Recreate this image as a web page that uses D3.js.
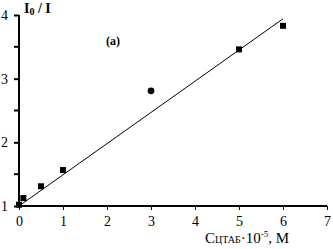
<!DOCTYPE html>
<html>
<head>
<meta charset="utf-8">
<script src="https://d3js.org/d3.v7.min.js"></script>
<style>
  body { margin: 0; background: #fff; }
  svg text { font-family: "Liberation Serif", "DejaVu Serif", serif; fill: #000; }
</style>
</head>
<body>
<svg id="chart" width="333" height="249"></svg>
<script>
// measured points: concentration (x 1e-5 M) and I0/I
const conc = [0, 0.1, 0.5, 1, 3, 5, 6];
const ratio = [1.02, 1.125, 1.31, 1.565, 2.81, 3.46, 3.83];
const shape = ["square", "square", "square", "square", "circle", "square", "square"];
// fitted line I0/I = 1 + k*C
const fitX = [0, 6];
const fitK = 0.49;
const xTicks = [0, 1, 2, 3, 4, 5, 6, 7];
const yTicks = [1, 2, 3, 4];
const yMinor = [1.5, 2.5, 3.5];

const svg = d3.select("#chart");
const x = d3.scaleLinear().domain([0, 7]).range([19, 327]);
const y = d3.scaleLinear().domain([1, 4]).range([206, 15]);

// axes
svg.append("g")
  .attr("transform", "translate(0,206)")
  .call(d3.axisBottom(x).tickValues(xTicks).tickSize(4).tickPadding(6).tickFormat(d3.format("d")))
  .attr("font-family", "Liberation Serif")
  .call(g => g.select(".domain").attr("stroke-width", 2).attr("d", "M19,0H327"))
  .call(g => g.selectAll("text").attr("font-size", 14));

svg.append("g")
  .attr("transform", "translate(19,0)")
  .call(d3.axisLeft(y).tickValues(yTicks).tickSize(5).tickPadding(6).tickFormat(d3.format("d")))
  .attr("font-family", "Liberation Serif")
  .call(g => g.select(".domain").attr("stroke-width", 2).attr("d", "M0,15V206"))
  .call(g => g.selectAll(".tick line").attr("stroke-width", 2))
  .call(g => g.selectAll("text").attr("font-size", 14));

svg.append("g").selectAll("line").data(yMinor).join("line")
  .attr("x1", 14).attr("x2", 19)
  .attr("y1", d => y(d)).attr("y2", d => y(d))
  .attr("stroke", "#000").attr("stroke-width", 2);

// fit line
svg.append("line")
  .attr("x1", x(fitX[0])).attr("y1", y(1 + fitK * fitX[0]))
  .attr("x2", x(fitX[1])).attr("y2", y(1 + fitK * fitX[1]))
  .attr("stroke", "#000").attr("stroke-width", 1);

// points
const pts = conc.map((c, i) => ({ c, r: ratio[i], s: shape[i] }));
svg.append("g").selectAll("path").data(pts).join("path")
  .attr("transform", d => `translate(${x(d.c)},${y(d.r)})`)
  .attr("d", d => d3.symbol(d.s === "circle" ? d3.symbolCircle : d3.symbolSquare, 36)())
  .attr("fill", "#000");

// labels
svg.append("text").attr("x", 24).attr("y", 13).attr("font-size", 14).attr("font-weight", "bold")
  .html('I<tspan font-size="10" dy="2">0</tspan><tspan dy="-2"> / I</tspan>');

svg.append("text").attr("x", 106).attr("y", 45).attr("font-size", 12).attr("font-weight", "bold")
  .text("(a)");

svg.append("text").attr("x", 205).attr("y", 243).attr("font-size", 15)
  .html('C<tspan font-size="10">ЦТАБ</tspan>·10<tspan font-size="9" dy="-6">-5</tspan><tspan dy="6">, M</tspan>');
</script>
</body>
</html>
